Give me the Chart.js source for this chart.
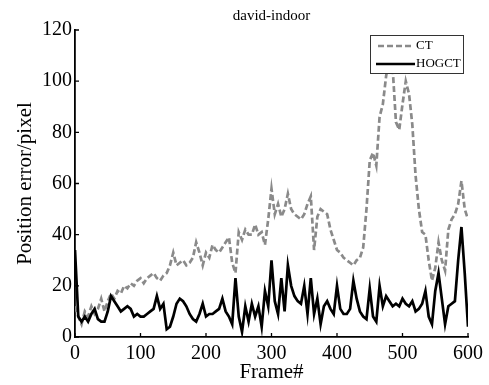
<!DOCTYPE html>
<html>
<head>
<meta charset="utf-8">
<script src="https://cdn.jsdelivr.net/npm/chart.js@4/dist/chart.umd.min.js"></script>
<style>
  html, body { margin: 0; padding: 0; background: #fff; }
  #wrap { width: 489px; height: 385px; }
</style>
</head>
<body>
<div id="wrap"><canvas id="err"></canvas></div>
<script>
// frame numbers (x), sampled every 5 frames
var frames = [0,5,10,15,20,25,30,35,40,45,50,55,60,65,70,75,80,85,90,95,
  100,105,110,115,120,125,130,135,140,145,150,155,160,165,170,175,180,185,190,195,
  200,205,210,215,220,225,230,235,240,245,250,255,260,265,270,275,280,285,290,295,
  300,305,310,315,320,325,330,335,340,345,350,355,360,365,370,375,380,385,390,395,
  400,405,410,415,420,425,430,435,440,445,450,455,460,465,470,475,480,485,490,495,
  500,505,510,515,520,525,530,535,540,545,550,555,560,565,570,575,580,585,590,595,600];

// position error of CT (pixels)
var ctErr = [12,8,5,10,8,12,9,11,15,10,
  14,17,15,18,17,20,19,21,20,22,
  23,21,23,24,25,23,22,24,25,28,
  33,28,29,30,28,29,31,37,33,28,
  33,31,36,34,33,35,37,39,29,25,
  41,38,42,40,40,44,40,41,36,46,
  58,48,52,47,50,56,50,48,47,46,
  48,52,55,34,47,50,49,48,42,38,
  34,33,31,30,29,28,30,31,35,50,
  69,72,67,86,91,102,110,105,84,81,
  91,100,95,83,63,50,41,40,30,22,
  27,37,30,26,42,46,48,52,61,50,
  46];

// position error of HOGCT (pixels)
var hogctErr = [34,8,6,8,6,9,11,7,6,6,
  10,16,14,12,10,11,12,11,8,9,
  8,8,9,10,11,16,11,13,3,4,
  8,13,15,14,12,9,7,6,9,13,
  8,9,9,10,11,15,10,8,5,23,
  8,2,12,6,13,8,12,4,18,12,
  30,14,9,23,10,28,20,16,14,13,
  20,9,23,9,15,5,12,14,11,9,
  20,11,9,9,11,22,15,10,8,7,
  19,8,6,20,12,16,14,12,13,12,
  15,13,12,14,10,11,13,18,8,5,
  18,25,15,5,12,13,14,30,43,25,
  4];

var seriesNames = ['CT', 'HOGCT'];
var xTicks = [0, 100, 200, 300, 400, 500, 600];
var yTicks = [0, 20, 40, 60, 80, 100, 120];
var chartTitle = 'david-indoor';

var serif = '"Liberation Serif", "DejaVu Serif", serif';
var ctGray = 'rgb(138,138,138)';

function pts(vals) {
  return frames.map(function(f, i){ return {x: f, y: vals[i]}; });
}

// ticks pointing into the plot, like the matlab figure, plus the title over the plot area
var innerTicks = {
  id: 'innerTicks',
  afterDraw: function(chart) {
    var c = chart.ctx, a = chart.chartArea;
    var xs = chart.scales.x, ys = chart.scales.y;
    c.save();
    c.strokeStyle = '#000';
    c.lineWidth = 1.3;
    c.beginPath();
    xTicks.forEach(function(v){
      var p = xs.getPixelForValue(v);
      c.moveTo(p, a.bottom); c.lineTo(p, a.bottom - 4);
    });
    yTicks.forEach(function(v){
      var p = ys.getPixelForValue(v);
      c.moveTo(a.left, p); c.lineTo(a.left + 4, p);
    });
    c.stroke();

    c.fillStyle = '#000';
    c.font = '15px ' + serif;
    c.textAlign = 'center';
    c.textBaseline = 'middle';
    c.fillText(chartTitle, (a.left + a.right) / 2, 16);
    c.restore();
  }
};

// boxed legend in the upper right corner
var boxLegend = {
  id: 'boxLegend',
  afterDatasetsDraw: function(chart) {
    var c = chart.ctx;
    var bx = 370, by = 35, bw = 93, bh = 38;
    c.save();
    c.fillStyle = '#fff';
    c.fillRect(bx, by, bw, bh);
    c.strokeStyle = '#333';
    c.lineWidth = 1;
    c.strokeRect(bx + 0.5, by + 0.5, bw, bh);

    c.lineWidth = 2.5;
    c.strokeStyle = ctGray;
    c.setLineDash([6, 3]);
    c.beginPath(); c.moveTo(378, 46); c.lineTo(414, 46); c.stroke();
    c.setLineDash([]);
    c.strokeStyle = '#000';
    c.beginPath(); c.moveTo(376, 64); c.lineTo(415, 64); c.stroke();

    c.fillStyle = '#000';
    c.font = '13px ' + serif;
    c.textBaseline = 'middle';
    c.fillText(seriesNames[0], 416, 46);
    c.fillText(seriesNames[1], 416, 64);
    c.restore();
  }
};

var ctx = document.getElementById('err');

var chart = new Chart(ctx, {
  type: 'line',
  data: {
    datasets: [
      {
        label: seriesNames[0],
        data: pts(ctErr),
        borderColor: ctGray,
        borderWidth: 2.7,
        borderDash: [6, 3],
        pointRadius: 0,
        tension: 0,
        fill: false,
        order: 1
      },
      {
        label: seriesNames[1],
        data: pts(hogctErr),
        borderColor: '#000',
        borderWidth: 2.7,
        pointRadius: 0,
        tension: 0,
        fill: false,
        order: 0
      }
    ]
  },
  options: {
    responsive: true,
    maintainAspectRatio: false,
    animation: false,
    layout: { padding: { left: 0, right: 21, top: 30, bottom: 0 } },
    plugins: {
      legend: { display: false },
      tooltip: { enabled: false },
      title: { display: false }
    },
    scales: {
      x: {
        type: 'linear',
        min: 0,
        max: 600,
        afterFit: function(s){ s.height = 48; },
        afterBuildTicks: function(s){ s.ticks = xTicks.map(function(v){ return {value: v}; }); },
        grid: { display: false, drawTicks: false },
        border: { display: true, color: '#000', width: 1.8 },
        ticks: { color: '#000', padding: 5, maxRotation: 0, font: { family: serif, size: 20 } },
        title: {
          display: true,
          text: 'Frame#',
          color: '#000',
          font: { family: serif, size: 21 },
          padding: { top: 0, bottom: 0 }
        }
      },
      y: {
        min: 0,
        max: 120,
        afterFit: function(s){ s.width = 75; },
        afterBuildTicks: function(s){ s.ticks = yTicks.map(function(v){ return {value: v}; }); },
        grid: { display: false, drawTicks: false },
        border: { display: true, color: '#000', width: 1.8 },
        ticks: { color: '#000', padding: 3, font: { family: serif, size: 20 } },
        title: {
          display: true,
          text: 'Position error/pixel',
          color: '#000',
          font: { family: serif, size: 21 },
          padding: { top: 13, bottom: 0 }
        }
      }
    }
  },
  plugins: [innerTicks, boxLegend]
});
</script>
</body>
</html>
